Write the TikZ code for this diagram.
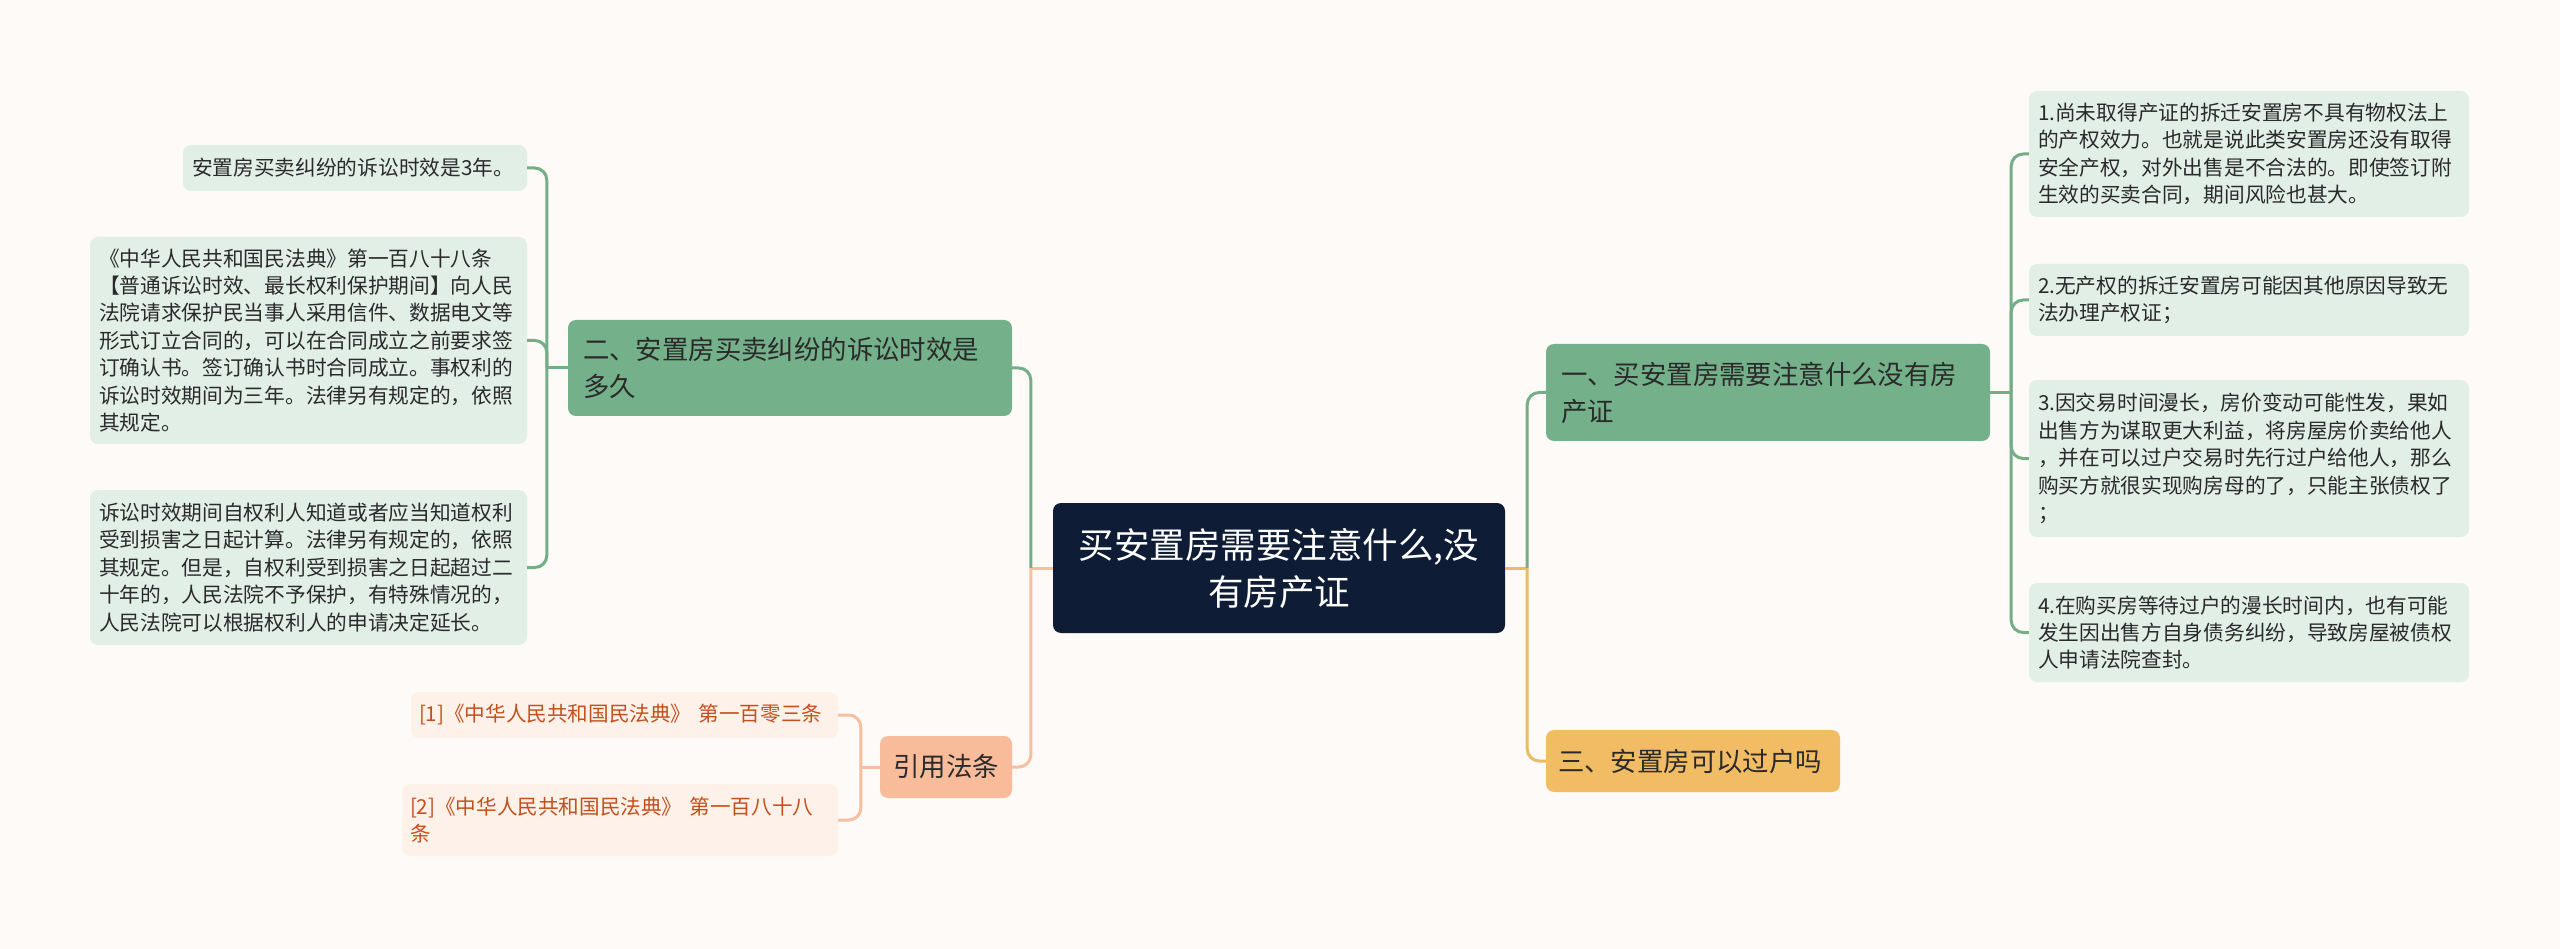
\documentclass[tikz,border=0pt]{standalone}
\usepackage{fontspec}
\setmainfont{Noto Sans CJK SC}
\definecolor{bgc}{HTML}{FDFAF8}
\definecolor{navy}{HTML}{0E1D35}
\definecolor{gbr}{HTML}{74B089}
\definecolor{glf}{HTML}{E2EFE7}
\definecolor{gln}{HTML}{74AE87}
\definecolor{txt}{HTML}{2A2A2A}
\definecolor{pbr}{HTML}{F8BC9B}
\definecolor{plf}{HTML}{FEF1EA}
\definecolor{pln}{HTML}{F5BFA0}
\definecolor{ptx}{HTML}{C2501C}
\definecolor{ybr}{HTML}{F1BC64}
\definecolor{yln}{HTML}{EDBB68}
\begin{document}
\begin{tikzpicture}[x=1pt,y=-1pt,
  base/.style={rounded corners=8pt, inner ysep=0pt, anchor=center},
  root/.style={base, fill=navy, text=white, font=\fontsize{35.5}{47}\selectfont, align=center, inner xsep=18pt},
  gbranch/.style={base, fill=gbr, text=txt, font=\fontsize{26.4}{37}\selectfont, align=left, inner xsep=15pt},
  ybranch/.style={base, fill=ybr, text=txt, font=\fontsize{26.4}{37}\selectfont, align=left, inner xsep=12pt},
  pbranch/.style={base, fill=pbr, text=txt, font=\fontsize{26.4}{37}\selectfont, align=center, inner xsep=10pt},
  gleaf/.style={base, fill=glf, text=txt, font=\fontsize{20.7}{27.4}\selectfont, align=left, inner xsep=9pt},
  pleaf/.style={base, fill=plf, text=ptx, font=\fontsize{20.6}{27.4}\selectfont, align=left, inner xsep=8pt},
  gline/.style={draw=gln, line width=3pt},
  pline/.style={draw=pln, line width=3pt},
  yline/.style={draw=yln, line width=3pt},
  rc/.style={rounded corners=12pt}
]
\fill[bgc] (0,0) rectangle (2560,949);
\useasboundingbox (0,0) rectangle (2560,949);

% root
\node[root, text width=416pt, minimum height=130pt] (c) at (1279,568)
  {买安置房需要注意什么,没\\有房产证};

% left branch
\node[gbranch, text width=414pt, minimum height=96pt] (b2) at (790,368)
  {二、安置房买卖纠纷的诉讼时效是\\多久};
\node[gleaf, text width=326pt, minimum height=46pt] (L1) at (355,168)
  {安置房买卖纠纷的诉讼时效是3年。};
\node[gleaf, text width=419pt, minimum height=207pt] (L2) at (308.5,340.5)
  {《中华人民共和国民法典》第一百八十八条\\
   【普通诉讼时效、最长权利保护期间】向人民\\
   法院请求保护民当事人采用信件、数据电文等\\
   形式订立合同的，可以在合同成立之前要求签\\
   订确认书。签订确认书时合同成立。事权利的\\
   诉讼时效期间为三年。法律另有规定的，依照\\
   其规定。};
\node[gleaf, text width=419pt, minimum height=155pt] (L3) at (308.5,567.5)
  {诉讼时效期间自权利人知道或者应当知道权利\\
   受到损害之日起计算。法律另有规定的，依照\\
   其规定。但是，自权利受到损害之日起超过二\\
   十年的，人民法院不予保护，有特殊情况的，\\
   人民法院可以根据权利人的申请决定延长。};

% citations
\node[pbranch, text width=112pt, minimum height=62pt] (b4) at (946,767) {引用法条};
\node[pleaf, text width=411pt, minimum height=46pt] (C1) at (624.5,715)
  {[1]《中华人民共和国民法典》\hspace{0.35em}第一百零三条};
\node[pleaf, text width=420pt, minimum height=72pt] (C2) at (620,820)
  {[2]《中华人民共和国民法典》\hspace{0.35em}第一百八十八\\条};

% right branches
\node[gbranch, text width=414pt, minimum height=97pt] (b1) at (1768,392.5)
  {一、买安置房需要注意什么没有房\\产证};
\node[ybranch, text width=270pt, minimum height=62pt] (b3) at (1693,761)
  {三、安置房可以过户吗};

\node[gleaf, text width=422pt, minimum height=126pt] (R1) at (2249,154)
  {1.尚未取得产证的拆迁安置房不具有物权法上\\
   的产权效力。也就是说此类安置房还没有取得\\
   安全产权，对外出售是不合法的。即使签订附\\
   生效的买卖合同，期间风险也甚大。};
\node[gleaf, text width=422pt, minimum height=72pt] (R2) at (2249,300)
  {2.无产权的拆迁安置房可能因其他原因导致无\\
   法办理产权证；};
\node[gleaf, text width=422pt, minimum height=157pt] (R3) at (2249,458.5)
  {3.因交易时间漫长，房价变动可能性发，果如\\
   出售方为谋取更大利益，将房屋房价卖给他人\\
   ，并在可以过户交易时先行过户给他人，那么\\
   购买方就很实现购房母的了，只能主张债权了\\
   ；};
\node[gleaf, text width=422pt, minimum height=99pt] (R4) at (2249,632.5)
  {4.在购买房等待过户的漫长时间内，也有可能\\
   发生因出售方自身债务纠纷，导致房屋被债权\\
   人申请法院查封。};

% connectors: root left
\draw[pline] (c.west) -- ++(-22,0) coordinate (jl);
\draw[gline, rc] (jl) |- (b2.east);
\draw[pline, rc] (jl) |- (b4.east);
% root right
\draw[yline] (c.east) -- ++(22,0) coordinate (jr);
\draw[gline, rc] (jr) |- (b1.west);
\draw[yline, rc] (jr) |- (b3.west);
% branch 2 leaves
\draw[gline] (b2.west) -- ++(-21,0) coordinate (j2);
\draw[gline, rc] (j2) |- (L1.east);
\draw[gline, rc] (j2) |- (L2.east);
\draw[gline, rc] (j2) |- (L3.east);
% citations
\draw[pline] (b4.west) -- ++(-19,0) coordinate (j4);
\draw[pline, rc] (j4) |- (C1.east);
\draw[pline, rc] (j4) |- (C2.east);
% branch 1 leaves
\draw[gline] (b1.east) -- ++(21,0) coordinate (j1);
\draw[gline, rc] (j1) |- (R1.west);
\draw[gline, rc] (j1) |- (R2.west);
\draw[gline, rc] (j1) |- (R3.west);
\draw[gline, rc] (j1) |- (R4.west);
\end{tikzpicture}
\end{document}
